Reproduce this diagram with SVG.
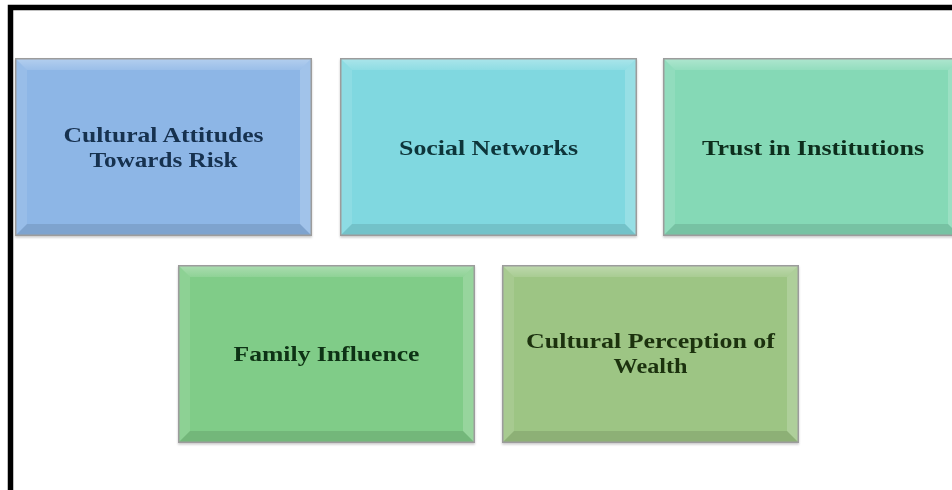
<svg xmlns="http://www.w3.org/2000/svg" xmlns:xlink="http://www.w3.org/1999/xlink" width="952" height="490" viewBox="0 0 952 490">
  <style>
    .label { font-family: "Liberation Serif", "Times New Roman", serif; font-weight: bold; font-size: 22px; text-anchor: middle; }
  </style>
  <defs>
    <!-- bevel overlay for a 297 x 178 tile -->
    <linearGradient id="topEdge" x1="0" y1="0" x2="0" y2="1">
      <stop offset="0" stop-color="#ffffff" stop-opacity="0.35"/>
      <stop offset="1" stop-color="#ffffff" stop-opacity="0.12"/>
    </linearGradient>
    <g id="bevel">
      <polygon points="0,0 297,0 285,12 12,12" fill="url(#topEdge)"/>
      <polygon points="0,0 12,12 12,166 0,178" fill="#ffffff" fill-opacity="0.1"/>
      <polygon points="297,0 297,178 285,166 285,12" fill="#ffffff" fill-opacity="0.18"/>
      <polygon points="0,178 297,178 285,166 12,166" fill="#000000" fill-opacity="0.1"/>
      <rect x="0.75" y="0.75" width="295.5" height="176.5" fill="none" stroke="#9c9c9c" stroke-width="1.5"/>
    </g>
    <filter id="shadow" x="-5%" y="-5%" width="110%" height="115%">
      <feDropShadow dx="0" dy="1.5" stdDeviation="1.2" flood-color="#000" flood-opacity="0.22"/>
    </filter>
  </defs>

  <rect width="952" height="490" fill="#ffffff"/>

  <!-- frame -->
  <path d="M10.5 490 V7.5 H952" fill="none" stroke="#000000" stroke-width="5.5"/>

  <g id="connectors"/>

  <g id="node-risk" transform="translate(15,58)" filter="url(#shadow)">
    <rect width="297" height="178" fill="#8db6e6"/>
    <use xlink:href="#bevel"/>
    <text class="label" fill="#17304f" x="148.5" y="84" textLength="200" lengthAdjust="spacingAndGlyphs">Cultural Attitudes</text>
    <text class="label" fill="#17304f" x="148.5" y="109" textLength="148" lengthAdjust="spacingAndGlyphs">Towards Risk</text>
  </g>

  <g id="node-social" transform="translate(340,58)" filter="url(#shadow)">
    <rect width="297" height="178" fill="#80d8e0"/>
    <use xlink:href="#bevel"/>
    <text class="label" fill="#10363a" x="148.5" y="97" textLength="179" lengthAdjust="spacingAndGlyphs">Social Networks</text>
  </g>

  <g id="node-trust" transform="translate(663,58)" filter="url(#shadow)">
    <rect width="297" height="178" fill="#85d9b6"/>
    <use xlink:href="#bevel"/>
    <text class="label" fill="#0f2e1f" x="150" y="97" textLength="222" lengthAdjust="spacingAndGlyphs">Trust in Institutions</text>
  </g>

  <g id="node-family" transform="translate(178,265)" filter="url(#shadow)">
    <rect width="297" height="178" fill="#80cc88"/>
    <use xlink:href="#bevel"/>
    <text class="label" fill="#0e3212" x="148.5" y="96" textLength="186" lengthAdjust="spacingAndGlyphs">Family Influence</text>
  </g>

  <g id="node-wealth" transform="translate(502,265)" filter="url(#shadow)">
    <rect width="297" height="178" fill="#9dc584"/>
    <use xlink:href="#bevel"/>
    <text class="label" fill="#1b3010" x="148.5" y="83" textLength="249" lengthAdjust="spacingAndGlyphs">Cultural Perception of</text>
    <text class="label" fill="#1b3010" x="148.5" y="108" textLength="74" lengthAdjust="spacingAndGlyphs">Wealth</text>
  </g>
</svg>
